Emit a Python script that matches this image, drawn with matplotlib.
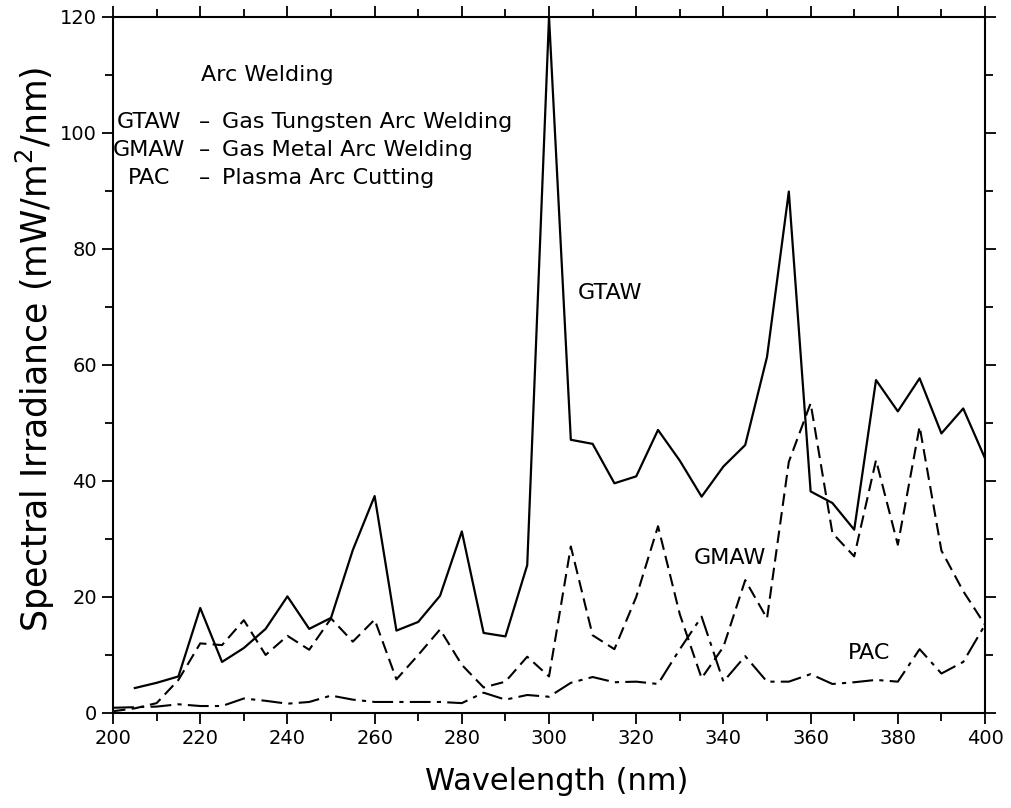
import numpy as np
import matplotlib
matplotlib.use("Agg")
import matplotlib.pyplot as plt
from matplotlib.ticker import MultipleLocator

# wavelength grid (nm), 5 nm steps
wavelength = np.arange(200, 405, 5)

# Gas Tungsten Arc Welding, starts at 205 nm
gtaw = [4.3, 5.2, 6.3, 18.1, 8.8, 11.2, 14.5, 20.1, 14.5, 16.4,
        28.1, 37.4, 14.2, 15.7, 20.2, 31.3, 13.8, 13.2, 25.5, 120.0,
        47.1, 46.4, 39.6, 40.8, 48.8, 43.5, 37.3, 42.5, 46.2, 61.4,
        89.9, 38.2, 36.2, 31.6, 57.4, 52.0, 57.7, 48.2, 52.5, 43.9]

# Gas Metal Arc Welding
gmaw = [0.3, 0.8, 1.7, 5.7, 12.0, 11.7, 16.0, 10.0, 13.3, 10.9,
        16.3, 12.3, 16.1, 5.8, 10.0, 14.4, 8.3, 4.4, 5.4, 9.7,
        6.3, 28.7, 13.4, 11.0, 20.0, 32.2, 17.0, 6.0, 11.4, 22.9,
        16.3, 43.3, 53.4, 31.0, 27.0, 43.6, 29.0, 49.4, 28.0, 21.0,
        15.2]

# Plasma Arc Cutting
pac = [0.9, 1.0, 1.1, 1.5, 1.2, 1.2, 2.5, 2.1, 1.6, 1.9,
       3.0, 2.3, 1.9, 1.9, 1.9, 1.9, 1.7, 3.5, 2.3, 3.1,
       2.8, 5.2, 6.2, 5.3, 5.4, 5.0, 11.0, 16.6, 5.4, 9.8,
       5.4, 5.4, 6.7, 5.0, 5.3, 5.7, 5.4, 11.0, 6.8, 8.8,
       15.2]

legend_rows = [("GTAW", "Gas Tungsten Arc Welding"),
               ("GMAW", "Gas Metal Arc Welding"),
               ("PAC", "Plasma Arc Cutting")]

fig = plt.figure(figsize=(10.11, 8.08), dpi=100)
ax = fig.add_axes([0.1118, 0.1176, 0.8625, 0.8614])

ax.plot(wavelength[1:], gtaw, color="black", lw=1.6, ls="-")
ax.plot(wavelength, gmaw, color="black", lw=1.5, ls=(0, (6, 3)))
ax.plot(wavelength, pac, color="black", lw=1.5, ls=(0, (10, 3, 2, 3)))

ax.set_xlim(200, 400)
ax.set_ylim(0, 120)
ax.xaxis.set_major_locator(MultipleLocator(20))
ax.xaxis.set_minor_locator(MultipleLocator(10))
ax.yaxis.set_major_locator(MultipleLocator(20))
ax.yaxis.set_minor_locator(MultipleLocator(10))
ax.tick_params(which="both", direction="out", top=True, right=True,
               width=1.3, labelsize=14)
ax.tick_params(which="major", length=8)
ax.tick_params(which="minor", length=6)
for sp in ax.spines.values():
    sp.set_linewidth(1.5)

ax.set_xlabel("Wavelength (nm)", fontsize=22)
ax.xaxis.set_label_coords(0.509, -0.078, transform=ax.transAxes)
ax.xaxis.label.set_va("top")
ax.set_ylabel(r"Spectral Irradiance (mW/m$^2$/nm)", fontsize=25)
ax.yaxis.set_label_coords(-0.064, 0.522, transform=ax.transAxes)

# key in the upper left corner
ax.text(0.177, 0.917, "Arc Welding", transform=ax.transAxes,
        ha="center", va="center", fontsize=16)
row_y = [0.849, 0.809, 0.769]
for (abbr, name), y in zip(legend_rows, row_y):
    ax.text(0.041, y, abbr, transform=ax.transAxes, ha="center", va="center", fontsize=16)
    ax.text(0.105, y, "\u2013", transform=ax.transAxes, ha="center", va="center", fontsize=16)
    ax.text(0.125, y, name, transform=ax.transAxes, ha="left", va="center", fontsize=16)

# curve labels
ax.text(314, 72.4, "GTAW", ha="center", va="center", fontsize=16)
ax.text(341.5, 26.7, "GMAW", ha="center", va="center", fontsize=16)
ax.text(373.4, 10.3, "PAC", ha="center", va="center", fontsize=16)

fig.savefig("out.png", dpi=100)
